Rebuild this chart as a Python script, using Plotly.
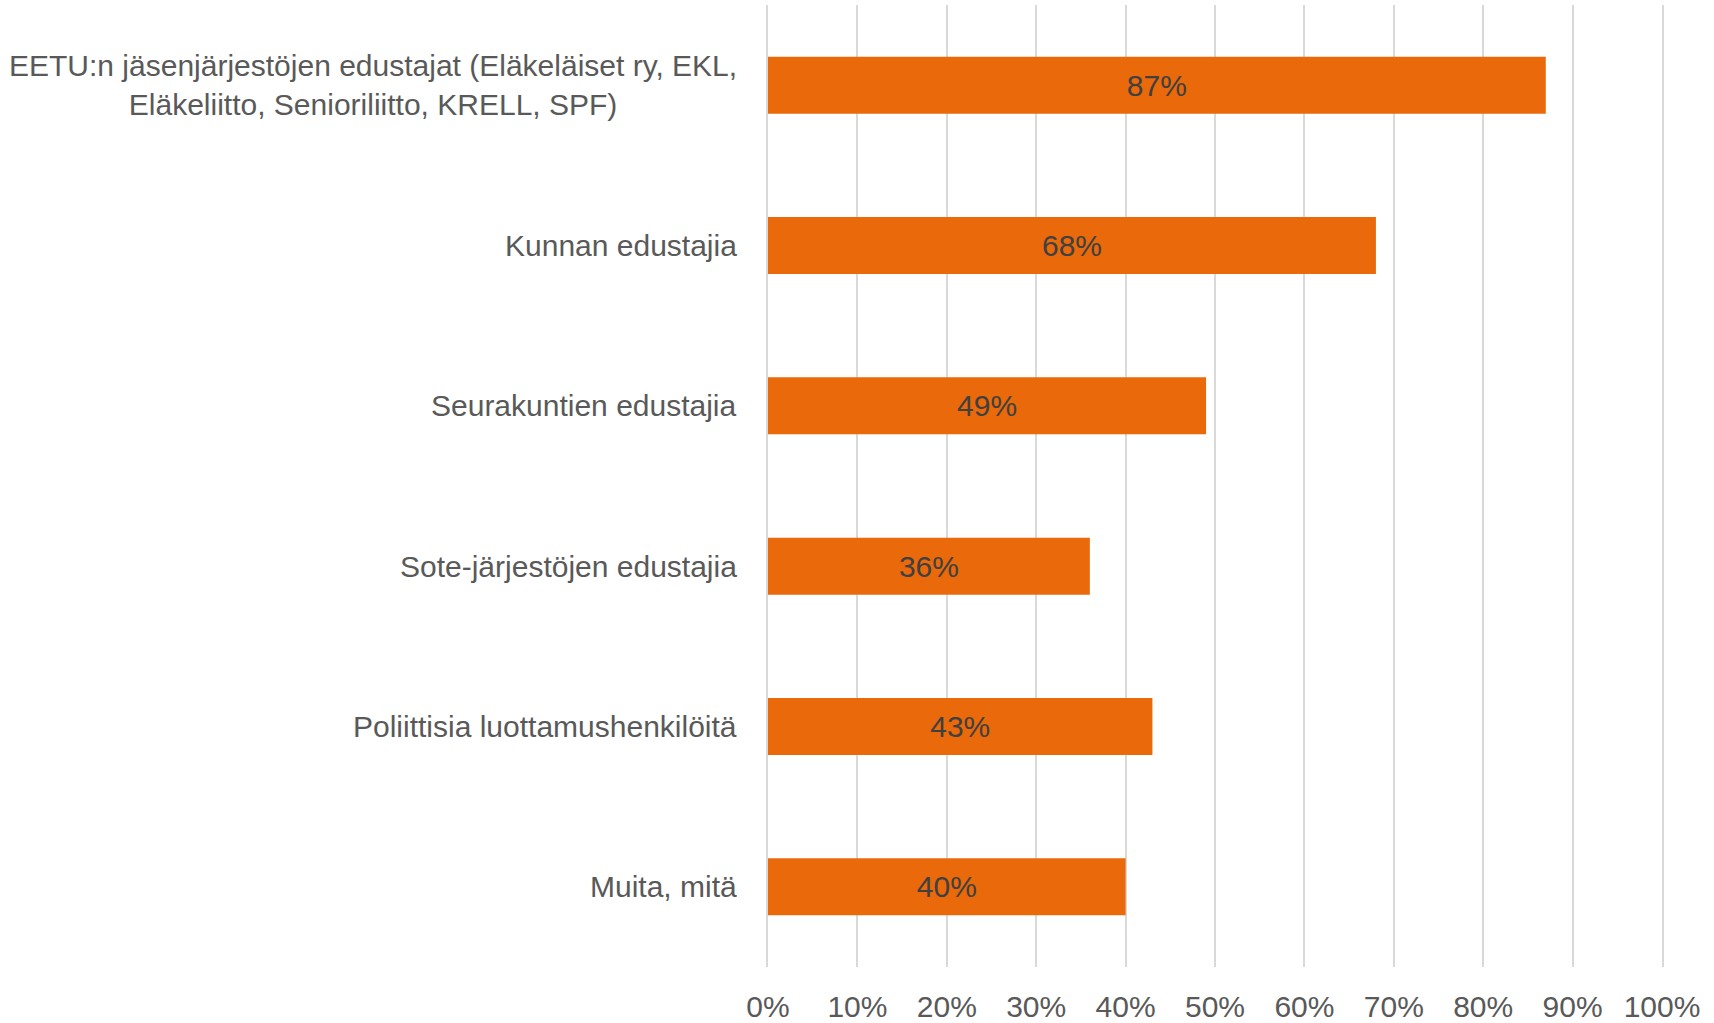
import plotly.graph_objects as go

# survey answers, share of respondents
categories = [
    "EETU:n jäsenjärjestöjen edustajat (Eläkeläiset ry, EKL,<br>Eläkeliitto, Senioriliitto, KRELL, SPF)",
    "Kunnan edustajia",
    "Seurakuntien edustajia",
    "Sote-järjestöjen edustajia",
    "Poliittisia luottamushenkilöitä",
    "Muita, mitä",
]
shares = [0.87, 0.68, 0.49, 0.36, 0.43, 0.40]
tick_vals = [i / 10 for i in range(11)]
tick_text = [f"{i * 10}%" for i in range(11)]

FONT = "Liberation Sans, Arial, sans-serif"
GREY = "#595959"
GRID = "#D9D9D9"

fig = go.Figure(
    go.Bar(
        x=shares,
        y=categories,
        orientation="h",
        marker=dict(color="#EA690B", line=dict(width=0)),
        text=[f"{v:.0%}" for v in shares],
        textposition="inside",
        insidetextanchor="middle",
        textfont=dict(family=FONT, size=30, color="#404040"),
        textangle=0,
        cliponaxis=False,
    )
)

# category labels as annotations so the wrapped one stays centred
for cat in categories:
    fig.add_annotation(
        x=0, xref="paper", y=cat, yref="y",
        text=cat, showarrow=False,
        xanchor="right", xshift=-29, align="center",
        font=dict(family=FONT, size=30, color=GREY),
    )

fig.update_layout(
    width=1714,
    height=1023,
    margin=dict(l=768, r=52, t=5, b=56, autoexpand=False),
    paper_bgcolor="white",
    plot_bgcolor="white",
    bargap=0.645,
    showlegend=False,
    font=dict(family=FONT, color=GREY),
    uniformtext=dict(minsize=30, mode="show"),
)
fig.update_xaxes(
    range=[0, 1],
    tickvals=tick_vals,
    ticktext=tick_text,
    showgrid=True,
    gridcolor=GRID,
    gridwidth=2,
    zeroline=False,
    showline=False,
    ticks="",
    automargin=False,
    ticklabelstandoff=19,
    tickfont=dict(family=FONT, size=30, color=GREY),
)
# y axis line mirrored gives the 0% and 100% gridlines
fig.update_yaxes(
    autorange="reversed",
    showticklabels=False,
    showgrid=False,
    zeroline=False,
    showline=True,
    linecolor=GRID,
    linewidth=2,
    mirror=True,
    automargin=False,
)

# drop the default page margin so the figure sits at the window corner
fig.write_html(
    "out.html",
    config={"displayModeBar": False},
    post_script="document.body.style.margin='0';",
)
